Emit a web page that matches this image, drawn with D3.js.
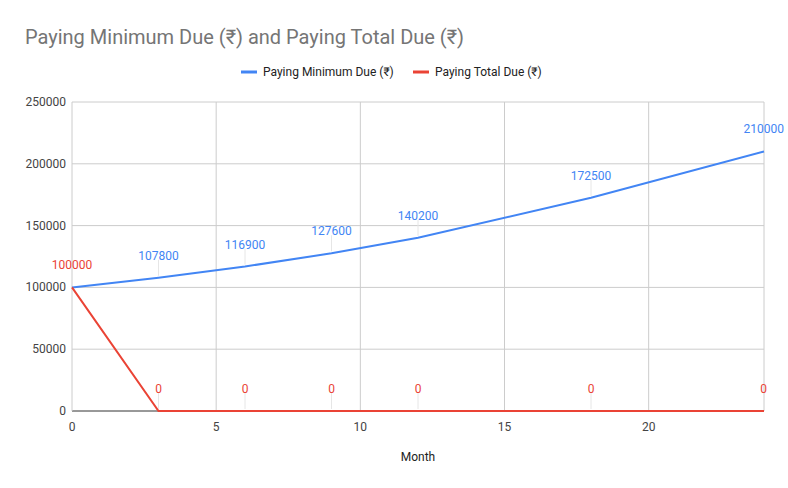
<!DOCTYPE html>
<html><head><meta charset="utf-8">
<script src="https://cdn.jsdelivr.net/npm/d3@7"></script>
<style>body{margin:0;background:#fff}text{font-family:Roboto,Arial,sans-serif}</style>
</head><body><svg id="c" width="788" height="488"></svg>
<script>
const months=[0,3,6,9,12,18,24];
const minDue=[100000,107800,116900,127600,140200,172500,210000];
const totalDue=[100000,0,0,0,0,0,0];
const xTicks=[0,5,10,15,20];
const yTicks=[0,50000,100000,150000,200000,250000];
const svg=d3.select("#c");
const x=d3.scaleLinear().domain([0,24]).range([72,764]);
const y=d3.scaleLinear().domain([0,250000]).range([411,102]);
svg.append("text").attr("x",25).attr("y",44).attr("font-size",20).attr("fill","#757575").text("Paying Minimum Due (₹) and Paying Total Due (₹)");
svg.selectAll(".hg").data(yTicks).join("line").attr("x1",72).attr("x2",764).attr("y1",d=>y(d)).attr("y2",d=>y(d)).attr("stroke",d=>d===0?"#333":"#ccc");
svg.selectAll(".vg").data(xTicks.concat([24])).join("line").attr("y1",102).attr("y2",411).attr("x1",d=>x(d)).attr("x2",d=>x(d)).attr("stroke","#ccc");
svg.selectAll(".yt").data(yTicks).join("text").attr("x",66).attr("y",d=>y(d)+4).attr("text-anchor","end").attr("font-size",12).attr("fill","#444").text(d=>d);
svg.selectAll(".xt").data(xTicks).join("text").attr("x",d=>x(d)).attr("y",431).attr("text-anchor","middle").attr("font-size",12).attr("fill","#444").text(d=>d);
svg.append("text").attr("x",418).attr("y",461).attr("text-anchor","middle").attr("font-size",12).attr("fill","#222").text("Month");
const series=[{v:minDue,c:"#4285f4",n:"Paying Minimum Due (₹)"},{v:totalDue,c:"#ea4335",n:"Paying Total Due (₹)"}];
const line=d3.line().x((d,i)=>x(months[i])).y(d=>y(d));
series.forEach((s,si)=>{
  svg.append("path").attr("d",line(s.v)).attr("fill","none").attr("stroke",s.c).attr("stroke-width",2);
  s.v.forEach((v,i)=>{
    if(si===0&&i===0)return;
    const px=x(months[i]),py=y(v);
    svg.append("line").attr("x1",px).attr("x2",px).attr("y1",py-2).attr("y2",py-18).attr("stroke","#e6e6e6");
    svg.append("text").attr("x",i===6?px-2:px).attr("y",py-18).attr("text-anchor",i===6?"end":"middle").attr("font-size",12).attr("fill",s.c).text(v).attr("dx",i===6&&si===0?22:(i===6?5:0));
  });
});
const lg=svg.append("g");
[[241,0],[413,1]].forEach(([lx,i])=>{
  lg.append("line").attr("x1",lx).attr("x2",lx+16).attr("y1",72).attr("y2",72).attr("stroke",series[i].c).attr("stroke-width",3);
  lg.append("text").attr("x",lx+22).attr("y",76).attr("font-size",12).attr("fill","#222").text(series[i].n);
});
</script></body></html>
